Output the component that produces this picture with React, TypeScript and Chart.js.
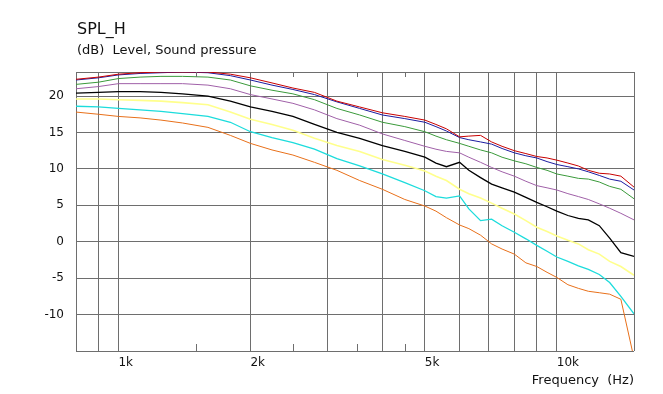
import React, { useEffect, useRef } from 'react';
import { Chart, registerables } from 'chart.js';

Chart.register(...registerables);

// Frequencies (Hz)
const freqs = [800, 900, 1000, 1120, 1250, 1400, 1600, 1800, 2000, 2240, 2500, 2800, 3150, 3550, 4000, 4500, 5000, 5300, 5600, 6000, 6300, 6700, 7100, 7500, 8000, 8500, 9000, 9500, 10000, 10600, 11200, 11800, 12500, 13200, 14000, 15000];

// SPL curves (dB)
const redCurve = [22.3, 22.6, 23.0, 23.2, 23.3, 23.3, 23.3, 23.0, 22.5, 21.8, 21.1, 20.5, 19.3, 18.5, 17.7, 17.2, 16.7, 16.1, 15.5, 14.4, 14.5, 14.6, 13.7, 13.1, 12.5, 12.1, 11.7, 11.5, 11.2, 10.8, 10.4, 9.8, 9.4, 9.3, 9.0, 7.5];
const blueCurve = [22.2, 22.5, 22.9, 23.1, 23.2, 23.3, 23.2, 22.8, 22.2, 21.5, 20.9, 20.2, 19.2, 18.3, 17.4, 16.9, 16.4, 15.8, 15.2, 14.3, 14.0, 13.7, 13.4, 12.8, 12.2, 11.8, 11.5, 11.0, 10.6, 10.3, 10.0, 9.6, 9.1, 8.6, 8.3, 7.1];
const greenCurve = [21.6, 21.9, 22.4, 22.6, 22.7, 22.7, 22.6, 22.2, 21.4, 20.8, 20.3, 19.5, 18.3, 17.4, 16.4, 15.8, 15.1, 14.5, 14.0, 13.5, 13.1, 12.6, 12.2, 11.6, 11.1, 10.7, 10.2, 9.8, 9.3, 9.0, 8.7, 8.6, 8.2, 7.6, 7.2, 5.9];
const purpleCurve = [21.0, 21.3, 21.7, 21.7, 21.7, 21.7, 21.5, 21.0, 20.2, 19.6, 19.0, 18.1, 16.9, 16.0, 14.8, 13.9, 13.1, 12.7, 12.4, 12.2, 11.6, 10.9, 10.2, 9.6, 9.0, 8.3, 7.7, 7.4, 7.1, 6.6, 6.2, 5.8, 5.2, 4.6, 3.9, 3.0];
const blackCurve = [20.4, 20.5, 20.6, 20.6, 20.5, 20.3, 20.0, 19.3, 18.5, 17.9, 17.2, 16.1, 15.0, 14.2, 13.2, 12.4, 11.6, 10.8, 10.3, 10.9, 9.8, 8.8, 7.9, 7.4, 6.8, 6.1, 5.4, 4.8, 4.2, 3.6, 3.2, 3.0, 2.2, 0.5, -1.5, -2.0];
const yellowCurve = [19.6, 19.6, 19.5, 19.4, 19.3, 19.1, 18.8, 17.8, 16.8, 16.1, 15.3, 14.2, 13.2, 12.4, 11.3, 10.5, 9.7, 9.0, 8.4, 7.2, 6.6, 6.0, 5.3, 4.6, 3.8, 2.9, 2.0, 1.4, 0.8, 0.2, -0.3, -1.1, -1.7, -2.7, -3.4, -4.6];
const cyanCurve = [18.6, 18.5, 18.3, 18.1, 17.9, 17.6, 17.2, 16.4, 15.1, 14.3, 13.6, 12.7, 11.4, 10.4, 9.3, 8.1, 7.0, 6.2, 6.0, 6.3, 4.5, 2.9, 3.1, 2.2, 1.3, 0.4, -0.5, -1.3, -2.1, -2.7, -3.3, -3.8, -4.5, -5.6, -7.5, -9.9];
const orangeCurve = [17.8, 17.5, 17.2, 17.0, 16.7, 16.3, 15.7, 14.6, 13.5, 12.6, 11.9, 10.9, 9.8, 8.4, 7.2, 5.8, 4.9, 4.2, 3.3, 2.3, 1.8, 0.9, -0.3, -1.0, -1.7, -2.9, -3.4, -4.2, -4.9, -5.9, -6.4, -6.8, -7.0, -7.2, -7.9, -16.0];

// Axis ticks
const xGridValues = [800, 900, 1000, 2000, 3000, 4000, 5000, 6000, 7000, 8000, 9000, 10000, 15000];
const xMinorTicks = [1500, 2500, 3500, 4500];
const xLabelValues = [1000, 2000, 5000, 10000];
const xLabels = ['1k', '2k', '5k', '10k'];
const yGridValues = [-15, -10, -5, 0, 5, 10, 15, 20, 23.3];
const yLabelValues = [-10, -5, 0, 5, 10, 15, 20];
const yLabels = ['-10', '-5', '0', '5', '10', '15', '20'];

const chartTitle = 'SPL_H';
const chartSubtitle = '(dB)  Level, Sound pressure';
const xTitle = 'Frequency  (Hz)';

const FONT = "'DejaVu Sans', Verdana, sans-serif";
const GRID = '#6e6e6e';
const TEXT = '#111111';

export default function App() {
  const ref = useRef<HTMLCanvasElement>(null);

  useEffect(() => {
    document.body.style.margin = '0';
    const canvas = ref.current;
    if (!canvas) return;

    const series = [
      { name: 'red', values: redCurve, color: '#c80000', width: 1 },
      { name: 'blue', values: blueCurve, color: '#1c1ca0', width: 1 },
      { name: 'green', values: greenCurve, color: '#3a9a3a', width: 1 },
      { name: 'purple', values: purpleCurve, color: '#a060a8', width: 1 },
      { name: 'black', values: blackCurve, color: '#000000', width: 1.3 },
      { name: 'yellow', values: yellowCurve, color: '#ffff8c', width: 1.6 },
      { name: 'cyan', values: cyanCurve, color: '#1cdcdc', width: 1.3 },
      { name: 'orange', values: orangeCurve, color: '#e8701a', width: 1 },
    ];

    const minorTickPlugin = {
      id: 'minorTicks',
      afterDraw(chart: any) {
        const { ctx, chartArea, scales } = chart;
        const xs = scales.x;
        ctx.save();
        ctx.strokeStyle = GRID;
        ctx.lineWidth = 1;
        ctx.beginPath();
        for (const v of xMinorTicks) {
          const px = Math.round(xs.getPixelForValue(v)) + 0.5;
          ctx.moveTo(px, chartArea.bottom);
          ctx.lineTo(px, chartArea.bottom - 7);
          ctx.moveTo(px, chartArea.top);
          ctx.lineTo(px, chartArea.top + 5);
        }
        ctx.stroke();
        ctx.restore();
      },
    };

    const chart = new Chart(canvas, {
      type: 'line',
      data: {
        datasets: series.map((s) => ({
          label: s.name,
          data: freqs.map((f, i) => ({ x: f, y: s.values[i] })),
          borderColor: s.color,
          backgroundColor: s.color,
          borderWidth: s.width,
          pointRadius: 0,
          tension: 0,
          fill: false,
        })),
      },
      options: {
        responsive: false,
        animation: false,
        layout: { padding: { top: 72, right: 29, left: 0, bottom: 0 } },
        plugins: {
          legend: { display: false },
          tooltip: { enabled: false },
          title: { display: false },
        },
        scales: {
          x: {
            type: 'logarithmic',
            min: 800,
            max: 15000,
            position: 'bottom',
            afterBuildTicks: (s: any) => {
              s.ticks = xGridValues.map((v) => ({ value: v }));
            },
            afterFit: (s: any) => {
              s.height = 43;
            },
            grid: { color: GRID, lineWidth: 1, drawTicks: false },
            border: { display: false },
            ticks: {
              autoSkip: false,
              maxRotation: 0,
              minRotation: 0,
              align: 'start',
              padding: 5,
              color: TEXT,
              font: { family: FONT, size: 12 },
              callback: (v: any) => {
                const i = xLabelValues.indexOf(Number(v));
                return i >= 0 ? xLabels[i] : '';
              },
            },
            title: {
              display: true,
              text: xTitle,
              align: 'end',
              color: TEXT,
              padding: { top: 0, bottom: 6 },
              font: { family: FONT, size: 13 },
            },
          },
          y: {
            type: 'linear',
            min: -15,
            max: 23.3,
            afterBuildTicks: (s: any) => {
              s.ticks = yGridValues.map((v) => ({ value: v }));
            },
            afterFit: (s: any) => {
              s.width = 76;
            },
            grid: { color: GRID, lineWidth: 1, drawTicks: false },
            border: { display: false },
            ticks: {
              padding: 12,
              color: TEXT,
              font: { family: FONT, size: 12 },
              callback: (v: any) => {
                const i = yLabelValues.indexOf(Number(v));
                return i >= 0 ? yLabels[i] : '';
              },
            },
          },
        },
      } as any,
      plugins: [minorTickPlugin],
    });

    return () => chart.destroy();
  }, []);

  return (
    <div style={{ position: 'relative', width: 663, height: 394, background: '#ffffff', overflow: 'hidden' }}>
      <canvas ref={ref} width={663} height={394} style={{ display: 'block', width: 663, height: 394 }} />
      <div style={{ position: 'absolute', left: 77, top: 21, fontFamily: FONT, fontSize: 16, lineHeight: '16px', color: TEXT, whiteSpace: 'pre' }}>
        {chartTitle}
      </div>
      <div style={{ position: 'absolute', left: 77, top: 43, fontFamily: FONT, fontSize: 13, lineHeight: '13px', color: TEXT, whiteSpace: 'pre' }}>
        {chartSubtitle}
      </div>
    </div>
  );
}
